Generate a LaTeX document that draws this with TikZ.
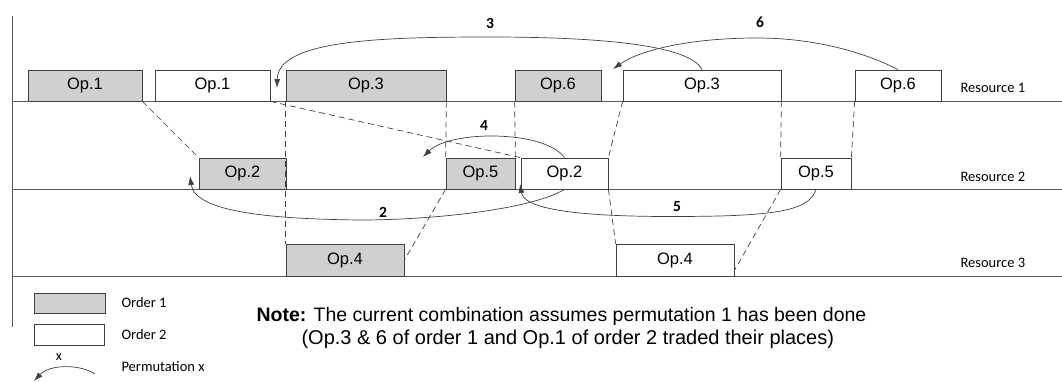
\documentclass[tikz,border=0pt]{standalone}
\usepackage{fontspec}
\setmainfont{Liberation Sans}
\newfontfamily\carl{Carlito}
\usetikzlibrary{arrows.meta}
\definecolor{grayf}{RGB}{208,208,208}
\definecolor{boxc}{RGB}{64,64,64}
\definecolor{linec}{RGB}{90,90,90}
\begin{document}
\begin{tikzpicture}[x=1pt,y=-1pt,
  ln/.style={draw=linec, line width=0.8pt},
  box/.style={draw=boxc, line width=0.8pt, inner sep=0pt, font=\fontsize{16.5}{19}\selectfont},
  gbox/.style={box, fill=grayf},
  wbox/.style={box, fill=white},
  conn/.style={draw=boxc, dash pattern=on 6pt off 4pt, line width=0.7pt},
  perm/.style={draw=boxc, line width=0.7pt, -{Latex[length=9pt,width=6pt]}},
  num/.style={font=\carl\bfseries\fontsize{15.5}{17}\selectfont},
  res/.style={font=\carl\fontsize{14.5}{17}\selectfont, anchor=west},
  note/.style={anchor=west}
]
\useasboundingbox (0,0) rectangle (1062,381);
% axis and resource lines
\draw[ln] (12,16) -- (12,327);
\draw[ln] (12,101) -- (1062,101);
\draw[ln] (12,189) -- (1062,189);
\draw[ln] (12,276) -- (1062,276);
% row 1
\node[gbox, minimum width=114pt, minimum height=31pt] (g1) at (85,85.5) {Op.1};
\node[wbox, minimum width=115pt, minimum height=31pt] (w1) at (212.5,85.5) {Op.1};
\node[gbox, minimum width=160pt, minimum height=31pt] (g3) at (366,85.5) {Op.3};
\node[gbox, minimum width=86pt, minimum height=31pt] (g6) at (558,85.5) {Op.6};
\node[wbox, minimum width=158pt, minimum height=31pt] (w3) at (702,85.5) {Op.3};
\node[wbox, minimum width=86pt, minimum height=31pt] (w6) at (898,85.5) {Op.6};
% row 2
\node[gbox, minimum width=87pt, minimum height=31pt] (g2) at (242.5,173.5) {Op.2};
\node[gbox, minimum width=69pt, minimum height=31pt] (g5) at (480.5,173.5) {Op.5};
\node[wbox, minimum width=87pt, minimum height=31pt] (w2) at (564.5,173.5) {Op.2};
\node[wbox, minimum width=70pt, minimum height=31pt] (w5) at (816,173.5) {Op.5};
% row 3
\node[gbox, minimum width=118pt, minimum height=32pt] (g4) at (345,260) {Op.4};
\node[wbox, minimum width=118pt, minimum height=32pt] (w4) at (675,260) {Op.4};
% resource labels
\node[res] (r1) at (957,88) {Resource 1};
\node[res] (r2) at (957,177) {Resource 2};
\node[res] (r3) at (957,263) {Resource 3};
% dashed precedence connectors
\draw[conn] (g1.south east) -- (g2.north west);
\draw[conn] (w1.south east) -- (w2.north west);
\draw[conn] (g3.south east) -- (g5.north west);
\draw[conn] (g3.south west) -- (g4.north west);
\draw[conn] (g6.south west) -- (g5.north east);
\draw[conn] (w3.south west) -- (w2.north east);
\draw[conn] (w2.south east) -- (w4.north west);
\draw[conn] (w3.south east) -- (w5.north west);
\draw[conn] (w6.south west) -- (w5.north east);
\draw[conn] (g5.south west) -- (g4.east);
\draw[conn] (w5.south west) -- ([yshift=6pt]w4.south east);
% permutation arcs
\coordinate (t3) at (277,88);
\coordinate (t6) at (613,69);
\coordinate (t4) at (423,157);
\coordinate (t2) at (190,176);
\coordinate (t5) at (520,184);
\draw[perm] (w3.north) .. controls (690,45) and (600,37) .. (490,37) .. controls (380,37) and (278,40) .. (t3);
\draw[perm] (w6.north) .. controls (870,55) and (820,38) .. (757,38) .. controls (690,38) and (640,50) .. (t6);
\draw[perm] (w2.north) .. controls (545,130) and (450,130) .. (t4);
\draw[perm] (w2.south) .. controls (530,210) and (430,220) .. (360,220) .. controls (270,219) and (195,212) .. (t2);
\draw[perm] (w5.south) .. controls (810,208) and (785,214) .. (720,216) .. controls (620,218) and (525,215) .. (t5);
\node[num] (n3) at (490,23) {3};
\node[num] (n6) at (760,22) {6};
\node[num] (n4) at (484,125) {4};
\node[num] (n2) at (383,212) {2};
\node[num] (n5) at (677,207) {5};
% legend
\node[gbox, minimum width=71pt, minimum height=20pt] (lg) at (69.5,303) {};
\node[wbox, minimum width=70pt, minimum height=21pt] (lw) at (69,334.5) {};
\node[res] (lo1) at (118,303) {Order 1};
\node[res] (lo2) at (118,335) {Order 2};
\node[res] (lpx) at (118,367) {Permutation x};
\coordinate (ls) at (95,374);
\coordinate (lt) at (34,381);
\draw[perm] (ls) .. controls (80,364) and (50,364) .. (lt);
\node[font=\carl\fontsize{14}{16}\selectfont] (lx) at (59,357) {x};
% note
\node[note, font=\fontsize{19.5}{23}\selectfont] (note1) at (253,316) {\textbf{Note:} The current combination assumes permutation 1 has been done};
\node[note, font=\fontsize{20}{24}\selectfont] (note2) at (298,339) {(Op.3 \& 6 of order 1 and Op.1 of order 2 traded their places)};
\end{tikzpicture}
\end{document}
